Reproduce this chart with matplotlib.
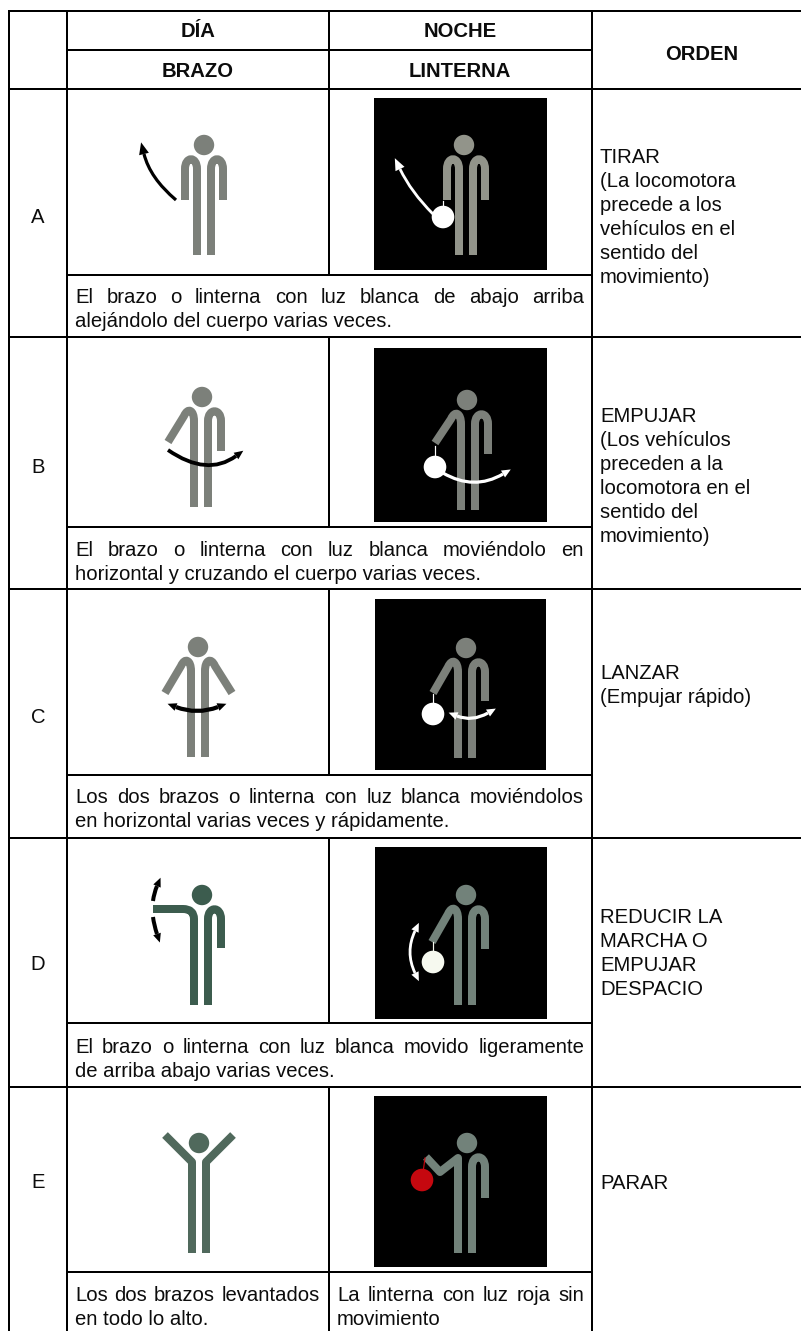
import numpy as np
import matplotlib
matplotlib.use('Agg')
import matplotlib.pyplot as plt
from matplotlib.patches import Circle, PathPatch, Polygon, Rectangle
from matplotlib.path import Path

plt.rcParams['font.family'] = ['Liberation Sans', 'DejaVu Sans']

# Contenido de la tabla
filas = ['A', 'B', 'C', 'D', 'E']
cabecera_dia = ['DÍA', 'BRAZO']
cabecera_noche = ['NOCHE', 'LINTERNA']
cabecera_orden = 'ORDEN'
ordenes = [
    ['TIRAR', '(La locomotora', 'precede a los', 'vehículos en el', 'sentido del', 'movimiento)'],
    ['EMPUJAR', '(Los vehículos', 'preceden a la', 'locomotora en el', 'sentido del', 'movimiento)'],
    ['LANZAR', '(Empujar rápido)'],
    ['REDUCIR LA', 'MARCHA O', 'EMPUJAR', 'DESPACIO'],
    ['PARAR'],
]
descripciones = [
    ['El brazo o linterna con luz blanca de abajo arriba', 'alejándolo del cuerpo varias veces.'],
    ['El brazo o linterna con luz blanca moviéndolo en', 'horizontal y cruzando el cuerpo varias veces.'],
    ['Los dos brazos o linterna con luz blanca moviéndolos', 'en horizontal varias veces y rápidamente.'],
    ['El brazo o linterna con luz blanca movido ligeramente', 'de arriba abajo varias veces.'],
]
desc_e_brazo = ['Los dos brazos levantados', 'en todo lo alto.']
desc_e_linterna = ['La linterna con luz roja sin', 'movimiento']

# Rejilla en pixeles
X0, X1, X2, X3, XF = 9, 67, 329, 592, 801
Y_TOP, Y_H1, Y_H2 = 11, 50, 89
y_foto = [275, 527, 775, 1023, 1272]
y_fila = [337, 589, 838, 1087]
cajas_y = [(98, 270), (348, 522), (599, 770), (847, 1019), (1096, 1267)]
base_desc = [303, 556, 803, 1053, 1301]
base_orden = [163, 422, 679, 923, 1189]
base_letra = [223, 473, 723, 970, 1188]

FS = 14.6
LEAD = 24
NEGRO = '#0c0c0c'
GRIS = '#7c807a'
GRIS_N = '#92948a'
VERDE = '#3c5c4e'
VERDE_E = '#50695c'
VERDE_N = '#72827a'

fig = plt.figure(figsize=(8.01, 13.31), dpi=100)
ax = fig.add_axes([0, 0, 1, 1])
ax.set_xlim(0, 801)
ax.set_ylim(1331, 0)
ax.axis('off')

PX = 72 / 100


def hline(y, x0, x1):
    ax.plot([x0, x1], [y, y], color='black', lw=2 * PX, solid_capstyle='projecting', zorder=5)


def vline(x, y0, y1):
    ax.plot([x, x], [y0, y1], color='black', lw=2 * PX, solid_capstyle='butt', zorder=5)


def justificada(linea, x0, x1, y):
    palabras = linea.split(' ')
    objs = [ax.text(x0, y, p, fontsize=FS, color=NEGRO, va='baseline', ha='left') for p in palabras]
    r = fig.canvas.get_renderer()
    anchos = [o.get_window_extent(r).width for o in objs]
    hueco = (x1 - x0 - sum(anchos)) / (len(palabras) - 1)
    x = x0
    for o, w in zip(objs, anchos):
        o.set_x(x)
        x += w + hueco


def stroke(verts, codes, color, w):
    ax.add_patch(PathPatch(Path(verts, codes), fill=False, edgecolor=color, lw=w * PX,
                           capstyle='butt', joinstyle='round', zorder=3))


def lado(cx, cy, s, color, brazo, off=20, fin=110):
    # pierna + hombro + brazo; s = -1 izquierda, +1 derecha
    xl = cx + s * 7
    verts = [(xl, cy + fin), (xl, cy + 24)]
    codes = [Path.MOVETO, Path.LINETO]
    if brazo[0] == 'abajo':
        verts += [(xl, cy + 11), (cx + s * off, cy + 11), (cx + s * off, cy + 24), (cx + s * off, cy + brazo[1])]
        codes += [Path.CURVE4, Path.CURVE4, Path.CURVE4, Path.LINETO]
    elif brazo[0] == 'diag':
        verts += [(xl, cy + 13), (cx + s * 13, cy + 10), (cx + s * 17, cy + 19), brazo[1]]
        codes += [Path.CURVE4, Path.CURVE4, Path.CURVE4, Path.LINETO]
    elif brazo[0] == 'horiz':
        verts += [(xl, cy + 14), (cx + s * 18, cy + 14), (brazo[1], cy + 14)]
        codes += [Path.CURVE3, Path.CURVE3, Path.LINETO]
    else:
        for p in brazo[1]:
            verts.append(p)
            codes.append(Path.LINETO)
    stroke(verts, codes, color, 8)


def persona(cx, cy, head_x, color, izq, der, off=20):
    lado(cx, cy, -1, color, izq, off)
    lado(cx, cy, 1, color, der, off)
    ax.add_patch(Circle((head_x, cy), 10.2, facecolor=color, edgecolor='none', zorder=3))


def punta(p, q, color, largo=9, ancho=4):
    d = np.array(q, float) - np.array(p, float)
    d = d / np.hypot(*d)
    n = np.array([-d[1], d[0]])
    q = np.array(q, float)
    ax.add_patch(Polygon([q + d * largo, q + n * ancho, q - n * ancho], closed=True,
                         facecolor=color, edgecolor='none', zorder=4))


def flecha(p0, c, p1, color, w=3, doble=False, largo=9, ancho=4):
    stroke([p0, c, p1], [Path.MOVETO, Path.CURVE3, Path.CURVE3], color, w)
    punta(c, p1, color, largo, ancho)
    if doble:
        punta(c, p0, color, largo, ancho)


def linterna(x, y, color='white', hilo=None):
    if hilo:
        ax.plot([x, hilo[0]], [y, hilo[1]], color=color, lw=1.2 * PX, zorder=4)
    ax.add_patch(Circle((x, y), 11.3, facecolor=color, edgecolor='none', zorder=5))


# cajas negras
for x0, x1, (y0, y1) in zip([374, 374, 375, 375, 374], [547, 547, 546, 547, 547], cajas_y):
    ax.add_patch(Rectangle((x0, y0), x1 - x0, y1 - y0, facecolor='black', edgecolor='none', zorder=1))

# A
persona(204, 145, 204, GRIS, ('abajo', 55), ('abajo', 55), off=19)
flecha((176, 200), (150, 178), (144, 154), 'black', 3.2, largo=12, ancho=5)
persona(466, 145, 464, GRIS_N, ('abajo', 55), ('abajo', 55), off=19)
flecha((433, 214), (411, 192), (400, 169), 'white', 2.8, largo=12, ancho=5)
linterna(443, 217, hilo=(443, 201))

# B
persona(201, 397, 202, GRIS, ('diag', (168, 442)), ('abajo', 54))
flecha((168, 450), (207, 477), (236, 456), 'black', 3.8)
persona(468, 400, 467, GRIS, ('diag', (435, 443)), ('abajo', 54))
flecha((443, 473), (474, 491), (503, 474), 'white', 3.2)
linterna(435, 467, hilo=(435, 446))

# C
persona(198, 647, 198, GRIS, ('diag', (165, 693)), ('diag', (232, 693)))
flecha((176, 707), (197, 715), (218, 707), 'black', 4.2, doble=True)
persona(465, 648, 466, GRIS, ('diag', (433, 693)), ('abajo', 53))
flecha((457, 716), (472, 722), (488, 713), 'white', 3.2, doble=True)
linterna(433, 714, hilo=(433, 694))

# D
persona(201, 895, 202, VERDE, ('horiz', 153), ('abajo', 53))
flecha((153, 901), (154, 893), (157, 886), 'black', 4)
flecha((153, 917), (154, 925), (157, 934), 'black', 4)
persona(465, 895, 466, VERDE_N, ('diag', (432, 942)), ('abajo', 54))
flecha((415, 931), (405, 952), (415, 973), 'white', 2.8, doble=True)
linterna(433, 962, color='#f6f9ef', hilo=(433, 942))

# E
persona(199, 1143, 199, VERDE_E, ('puntos', [(192, 1162), (165, 1135)]), ('puntos', [(206, 1162), (233, 1135)]))
persona(465, 1143, 467, VERDE_N, ('puntos', [(458, 1158), (440, 1172), (426, 1157)]), ('abajo', 55))
linterna(422, 1180, color='#c5080f', hilo=(425, 1158))

# rejilla
hline(Y_TOP, X0, XF)
hline(Y_H1, X1, X3)
hline(Y_H2, X0, XF)
for y in y_foto:
    hline(y, X1, X3)
for y in y_fila:
    hline(y, X0, XF)
vline(X0, Y_TOP, 1331)
vline(X1, Y_TOP, 1331)
vline(X3, Y_TOP, 1331)
vline(X2, Y_TOP, Y_H2)
top = Y_H2
for y_f, y_n in zip(y_foto[:4], y_fila):
    vline(X2, top, y_f)
    top = y_n
vline(X2, top, 1331)

# cabecera
for txt, y in zip(cabecera_dia, [37, 77]):
    ax.text(198, y, txt, fontsize=FS, fontweight='bold', color=NEGRO, ha='center', va='baseline')
for txt, y in zip(cabecera_noche, [37, 77]):
    ax.text(460, y, txt, fontsize=FS, fontweight='bold', color=NEGRO, ha='center', va='baseline')
ax.text(702, 60, cabecera_orden, fontsize=FS, fontweight='bold', color=NEGRO, ha='center', va='baseline')

# letras y ordenes
for letra, y in zip(filas, base_letra):
    ax.text(38, y, letra, fontsize=FS, color=NEGRO, ha='center', va='baseline')
for lineas, y in zip(ordenes, base_orden):
    for i, t in enumerate(lineas):
        ax.text(600, y + i * LEAD, t, fontsize=FS, color=NEGRO, ha='left', va='baseline')

# descripciones
for d, y in zip(descripciones, base_desc):
    justificada(d[0], 75, 584, y)
    ax.text(75, y + LEAD, d[1], fontsize=FS, color=NEGRO, ha='left', va='baseline')
y = base_desc[4]
justificada(desc_e_brazo[0], 75, 320, y)
ax.text(75, y + LEAD, desc_e_brazo[1], fontsize=FS, color=NEGRO, ha='left', va='baseline')
justificada(desc_e_linterna[0], 337, 584, y)
ax.text(337, y + LEAD, desc_e_linterna[1], fontsize=FS, color=NEGRO, ha='left', va='baseline')

fig.savefig('out.png', dpi=100)
